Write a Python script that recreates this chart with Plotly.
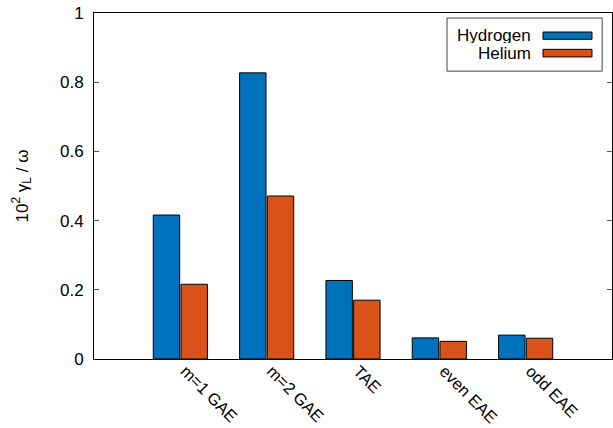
import plotly.graph_objects as go

categories = ["m=1 GAE", "m=2 GAE", "TAE", "even EAE", "odd EAE"]
hydrogen = [0.416, 0.827, 0.227, 0.061, 0.069]
helium = [0.216, 0.471, 0.170, 0.051, 0.060]
series_names = ["Hydrogen", "Helium"]
colors = ["#0072BD", "#D95319"]

FONT = "Liberation Sans, Arial, sans-serif"

fig = go.Figure()
for name, vals, col in zip(series_names, [hydrogen, helium], colors):
    fig.add_trace(go.Bar(
        x=list(range(len(categories))), y=vals, name=name,
        marker=dict(color=col, line=dict(color="black", width=1)),
        showlegend=False,
    ))

# custom legend (gnuplot style: text right-aligned, swatch on the right)
fig.add_shape(type="rect", xref="paper", yref="paper",
              x0=0.6815, x1=0.981, y0=0.832, y1=0.9855,
              line=dict(color="#444444", width=1), fillcolor="white", layer="below")
sw_y = [(0.924, 0.945), (0.873, 0.895)]
txt_y = [0.935, 0.884]
for name, col, (y0, y1), ty in zip(series_names, colors, sw_y, txt_y):
    fig.add_shape(type="rect", xref="paper", yref="paper",
                  x0=0.8668, x1=0.9614, y0=y0, y1=y1,
                  line=dict(color="black", width=1), fillcolor=col)
    fig.add_annotation(xref="paper", yref="paper", x=0.845, y=ty,
                       text=name, showarrow=False, xanchor="right", yanchor="middle",
                       height=16, borderpad=0,
                       font=dict(family=FONT, size=17, color="black"))

fig.update_layout(
    width=613, height=428,
    margin=dict(l=94, r=1, t=13, b=69, autoexpand=False),
    paper_bgcolor="white", plot_bgcolor="white",
    barmode="group", bargap=0.358, bargroupgap=0.047,
    font=dict(family=FONT, size=17, color="black"),
)
fig.update_xaxes(
    range=[-1, 5], tickmode="array", tickvals=list(range(len(categories))),
    ticktext=categories, tickangle=45, ticks="", showgrid=False,
    showline=True, linecolor="black", linewidth=1, mirror=True, automargin=False,
    zeroline=False, tickfont=dict(size=16.5), ticklabelshift=5, ticklabelstandoff=-5,
)
fig.update_yaxes(
    range=[0, 1], dtick=0.2, ticks="inside", ticklen=5, tickcolor="#555555",
    showgrid=False, showline=True, linecolor="black", linewidth=1, mirror="allticks",
    zeroline=False, ticklabelstandoff=6, automargin=False,
    title=dict(text="10<sup>2</sup> γ<sub>L</sub> / ω", standoff=27,
               font=dict(family=FONT, size=17, color="black")),
)

fig.write_html("out.html")
